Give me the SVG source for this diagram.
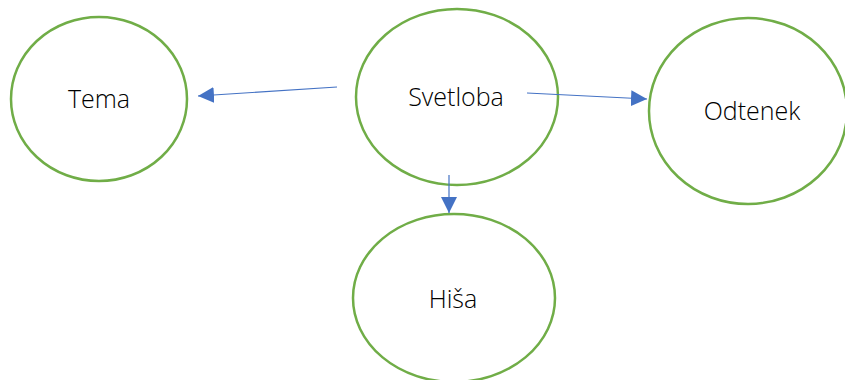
<svg xmlns="http://www.w3.org/2000/svg" width="845" height="380" viewBox="0 0 845 380">
<style>
.n{fill:#fff;stroke:#70AD47;stroke-width:2.5}
.t{font-family:"Open Sans","Liberation Sans",sans-serif;font-weight:300;font-size:25px;fill:#000;text-anchor:middle}
.c{stroke:#4472C4;stroke-width:1.2;fill:none;marker-end:url(#ah)}
</style>
<defs>
<marker id="ah" viewBox="0 0 10 10" refX="10" refY="5" markerWidth="16" markerHeight="16" markerUnits="userSpaceOnUse" orient="auto">
<path d="M0,0L10,5L0,10z" fill="#4472C4"/>
</marker>
</defs>
<rect width="845" height="380" fill="#fff"/>
<g id="tema"><ellipse class="n" cx="99" cy="99" rx="88" ry="82"/><text class="t" x="99" y="108">Tema</text></g>
<g id="svetloba"><ellipse class="n" cx="457" cy="97" rx="101" ry="88"/><text class="t" x="456" y="106">Svetloba</text></g>
<g id="odtenek"><ellipse class="n" cx="748" cy="111" rx="99" ry="93"/><text class="t" x="752" y="120">Odtenek</text></g>
<g id="hisa"><ellipse class="n" cx="454" cy="298" rx="101" ry="84"/><text class="t" x="453" y="308">Hiša</text></g>
<g id="connectors">
<line class="c" x1="337" y1="87" x2="198" y2="96"/>
<line class="c" x1="527" y1="93" x2="647" y2="99"/>
<line class="c" x1="449" y1="175" x2="449" y2="213"/>
</g>
</svg>
